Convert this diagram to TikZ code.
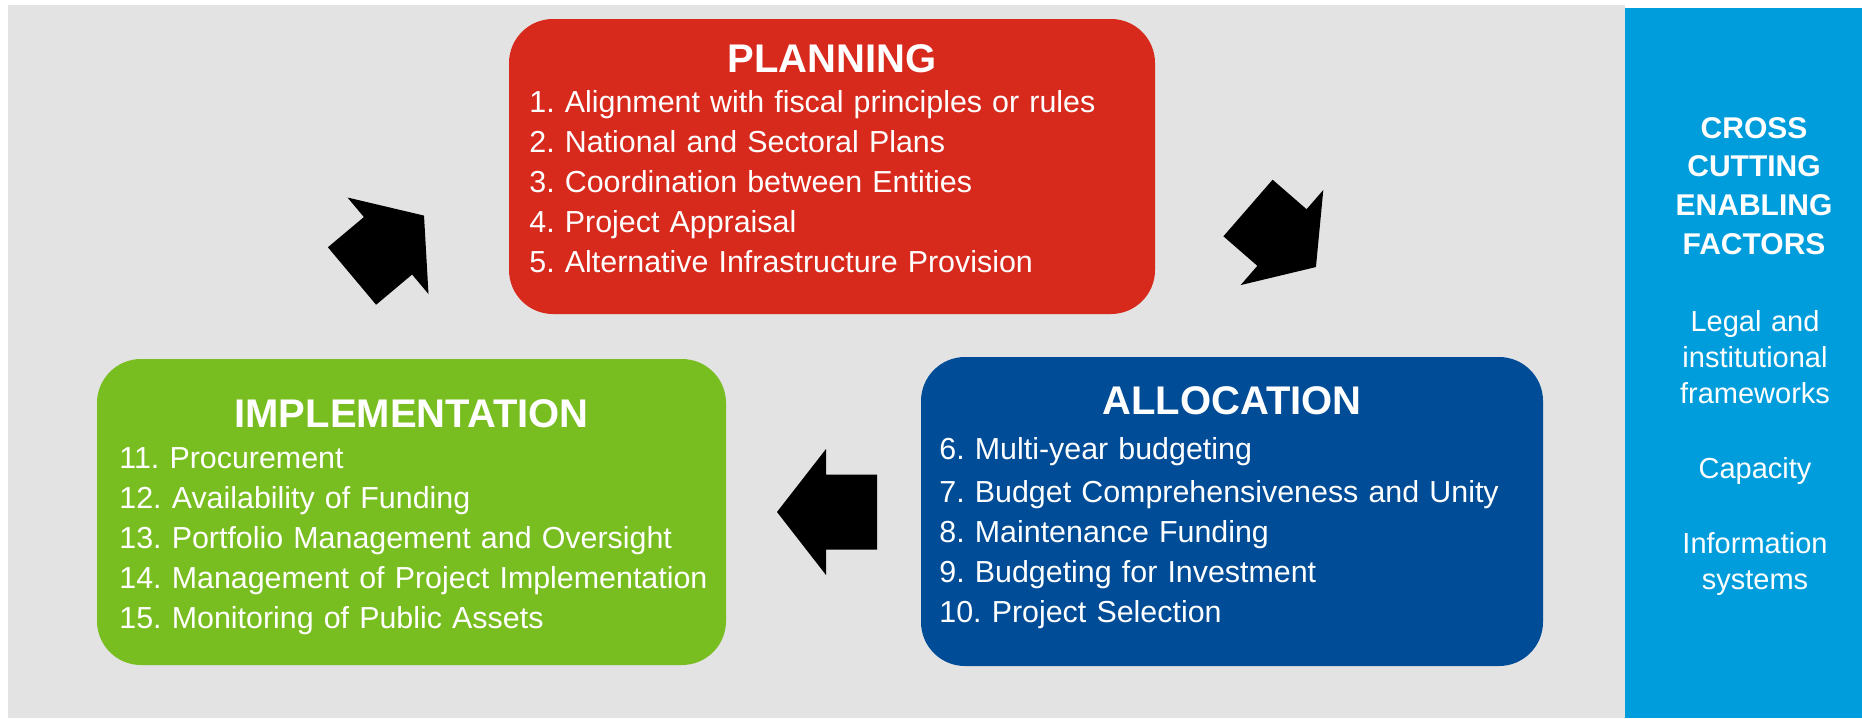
\documentclass[tikz,border=0pt]{standalone}
\usepackage{fontspec}
\setmainfont{Liberation Sans}
\frenchspacing
\definecolor{bggray}{HTML}{E3E3E3}
\definecolor{planred}{HTML}{D8291D}
\definecolor{allocblue}{HTML}{004C97}
\definecolor{implgreen}{HTML}{79BE21}
\definecolor{sideblue}{HTML}{009DDC}
% block arrow: tail midpoint (#1,#2), direction #3, shaft length #4, head length #5
\newcommand\blockarrow[5]{%
  \fill[black,shift={(#1,#2)},rotate=#3]
    (0,-37.5) -- (#4,-37.5) -- (#4,-63) -- ({#4+#5},0) -- (#4,63) -- (#4,37.5) -- (0,37.5) -- cycle;}
\begin{document}
\begin{tikzpicture}[x=0.5pt,y=-0.5pt,
  phase/.style={rounded corners=22pt,inner sep=0pt,draw=none},
  phasetitle/.style={anchor=base,text=white,inner sep=0pt,font=\bfseries\fontsize{20}{24}\selectfont},
  phaselist/.style={anchor=base west,text=white,inner sep=0pt,text width=400pt,align=left,
                    font=\fontsize{15.2}{20}\selectfont},
  sidehead/.style={anchor=base,text=white,inner sep=0pt,text width=115pt,align=center,
                   font=\bfseries\fontsize{15}{19.4}\selectfont},
  sidebody/.style={anchor=base,text=white,inner sep=0pt,text width=115pt,align=center,
                   font=\fontsize{14.5}{18}\selectfont}]
\useasboundingbox (0,0) rectangle (1862,718);
% backgrounds
\fill[bggray] (8,5) rectangle (1625,718);
\fill[sideblue] (1625,8) rectangle (1862,718);

% the three phase boxes
\node[phase,fill=planred,minimum width=323pt,minimum height=147.5pt] (plan) at (832,166.5) {};
\node[phase,fill=allocblue,minimum width=311pt,minimum height=154.5pt] (alloc) at (1232,511.5) {};
\node[phase,fill=implgreen,minimum width=314.5pt,minimum height=153pt] (impl) at (411.5,512) {};

\node[phasetitle] (plantitle) at (832,72) {PLANNING};
\node[phaselist] (planlist) at (529,112) {1. Alignment with fiscal principles or rules\\
2. National and Sectoral Plans\\
3. Coordination between Entities\\
4. Project Appraisal\\
5. Alternative Infrastructure Provision};

\node[phasetitle] (alloctitle) at (1232,414) {ALLOCATION};
\node[phaselist] (alloclist) at (939,459) {6. Multi-year budgeting\\[1.5pt]
7. Budget Comprehensiveness and Unity\\
8. Maintenance Funding\\
9. Budgeting for Investment\\
10. Project Selection};

\node[phasetitle] (impltitle) at (411.5,427) {IMPLEMENTATION};
\node[phaselist] (impllist) at (119,468) {11. Procurement\\
12. Availability of Funding\\
13. Portfolio Management and Oversight\\
14. Management of Project Implementation\\
15. Monitoring of Public Assets};

% cycle arrows
\blockarrow{352}{276}{40}{47}{47}
\blockarrow{1248}{208}{-41}{45}{45}
\blockarrow{877}{512}{180}{51}{49}

% side panel
\node[sidehead] (sidetitle) at (1754,138) {CROSS\\CUTTING\\ENABLING\\FACTORS};
\node[sidebody] (sidetext) at (1755,331) {Legal and\\institutional\\frameworks\\[19.5pt]
Capacity\\[19.5pt]
Information\\systems};
\end{tikzpicture}
\end{document}
